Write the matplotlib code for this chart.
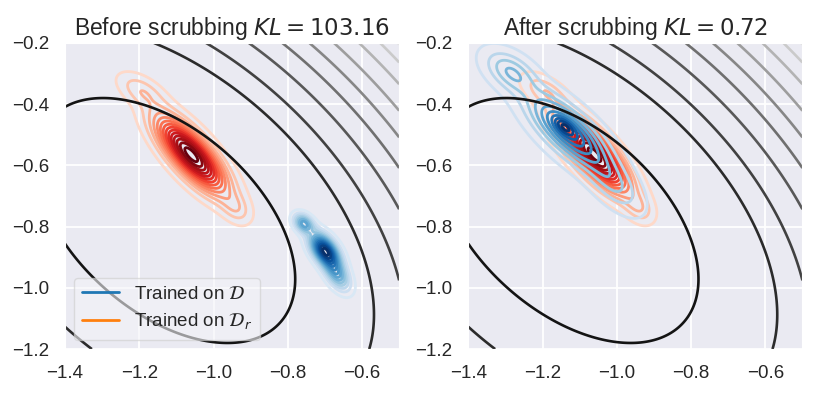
import numpy as np
import matplotlib.pyplot as plt
import seaborn as sns
from matplotlib.lines import Line2D

sns.set_style("darkgrid")
plt.rcParams['font.family'] = ['Liberation Sans', 'DejaVu Sans']

x_lim = [-1.4, -0.5]
y_lim = [-1.2, -0.2]
x_ticks = [-1.4, -1.2, -1.0, -0.8, -0.6]
y_ticks = [-1.2, -1.0, -0.8, -0.6, -0.4, -0.2]

titles = ["Before scrubbing $KL = 103.16$", "After scrubbing $KL = 0.72$"]
legend_labels = [r"Trained on $\mathcal{D}$", r"Trained on $\mathcal{D}_r$"]

# loss landscape (quadratic bowl)
loss_center = [-1.13, -0.78]
loss_cov = [[0.1225, -0.067], [-0.067, 0.16]]
loss_levels = [1.0, 2.58, 3.42, 4.42, 5.4, 6.32, 7.25, 8.3, 9.25, 10.1]

# weight densities as gaussian bumps: centre x, centre y, sd major, sd minor, angle (deg), weight
# model trained on D_r (same in both panels)
red_mx = [-1.06, -1.195, -0.94]
red_my = [-0.565, -0.355, -0.74]
red_s1 = [0.095, 0.048, 0.035]
red_s2 = [0.033, 0.026, 0.022]
red_ang = [-55, -40, -62]
red_w = [1.0, 0.15, 0.12]

# model trained on D, before scrubbing
blue0_mx = [-0.700, -0.757, -0.668]
blue0_my = [-0.878, -0.790, -0.955]
blue0_s1 = [0.040, 0.022, 0.038]
blue0_s2 = [0.020, 0.015, 0.018]
blue0_ang = [-62, -60, -65]
blue0_w = [1.0, 0.5, 0.45]

# model trained on D, after scrubbing
blue1_mx = [-1.13, -1.285, -1.01, -1.14]
blue1_my = [-0.49, -0.295, -0.66, -0.474]
blue1_s1 = [0.10, 0.055, 0.070, 0.025]
blue1_s2 = [0.038, 0.032, 0.032, 0.012]
blue1_ang = [-50, -45, -55, -50]
blue1_w = [1.0, 0.45, 0.30, 0.35]

n_levels_red = 14
n_levels_blue = [14, 10]


def mixture(X, Y, mx, my, s1, s2, ang, w):
    Z = np.zeros_like(X)
    for cx, cy, a, b, t, wt in zip(mx, my, s1, s2, ang, w):
        th = np.deg2rad(t)
        u = (X - cx) * np.cos(th) + (Y - cy) * np.sin(th)
        v = -(X - cx) * np.sin(th) + (Y - cy) * np.cos(th)
        Z += wt * np.exp(-0.5 * ((u / a) ** 2 + (v / b) ** 2))
    return Z


def draw_density(ax, Z, n, cmap, lw, c0=0.15):
    levels = Z.max() * np.linspace(0.04, 0.96, n)
    cols = plt.get_cmap(cmap)(np.linspace(c0, 1.0, n))
    ax.contour(X, Y, Z, levels=levels, colors=cols, linewidths=lw)


xs = np.linspace(x_lim[0], x_lim[1], 500)
ys = np.linspace(y_lim[0], y_lim[1], 500)
X, Y = np.meshgrid(xs, ys)

M = np.linalg.inv(np.array(loss_cov))
dx = X - loss_center[0]
dy = Y - loss_center[1]
L = M[0, 0] * dx ** 2 + 2 * M[0, 1] * dx * dy + M[1, 1] * dy ** 2
loss_cols = plt.get_cmap('gray')(np.linspace(0.08, 0.88, len(loss_levels)))

Z_red = mixture(X, Y, red_mx, red_my, red_s1, red_s2, red_ang, red_w)
Z_blue = [mixture(X, Y, blue0_mx, blue0_my, blue0_s1, blue0_s2, blue0_ang, blue0_w),
          mixture(X, Y, blue1_mx, blue1_my, blue1_s1, blue1_s2, blue1_ang, blue1_w)]
blue_c0 = [0.15, 0.2]

fig = plt.figure(figsize=(8.23, 3.94), dpi=100)
axes = [fig.add_axes([0.079, 0.114, 0.406, 0.777]),
        fig.add_axes([0.569, 0.114, 0.406, 0.777])]

for i, ax in enumerate(axes):
    draw_density(ax, Z_red, n_levels_red, 'Reds', 2.0)
    draw_density(ax, Z_blue[i], n_levels_blue[i], 'Blues', 2.0, blue_c0[i])
    ax.contour(X, Y, L, levels=loss_levels, colors=loss_cols, linewidths=1.9)
    ax.set_xlim(x_lim)
    ax.set_ylim(y_lim)
    ax.set_xticks(x_ticks)
    ax.set_yticks(y_ticks)
    ax.tick_params(labelsize=13.5, pad=8)
    ax.grid(True, color='white', linewidth=1.3)
    ax.set_title(titles[i], fontsize=16.5)

handles = [Line2D([0], [0], color='#1f77b4', lw=2),
           Line2D([0], [0], color='#ff7f0e', lw=2)]
axes[0].legend(handles, legend_labels, loc='lower left', fontsize=13.5,
               frameon=True, framealpha=0.6, facecolor='#f4f4f8', edgecolor='#cccccc')

plt.savefig('out.png', dpi=100)
